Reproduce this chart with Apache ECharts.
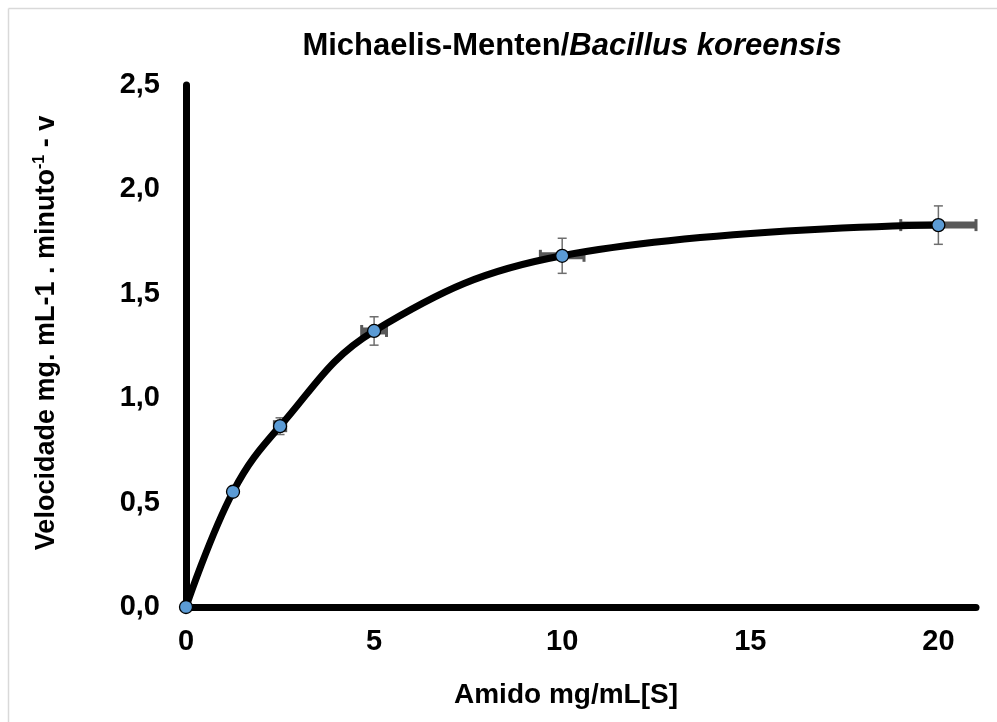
<!DOCTYPE html>
<html>
<head>
<meta charset="utf-8">
<script src="https://cdn.jsdelivr.net/npm/echarts@6/dist/echarts.min.js"></script>
<style>
html, body { margin: 0; padding: 0; background: #fff; }
#chart { width: 997px; height: 722px; }
</style>
</head>
<body>
<div id="chart"></div>
<script>
// substrate concentration [S] and velocity v
var substrate = [0, 1.25, 2.5, 5, 10, 20]
var velocity = [0, 0.552, 0.866, 1.322, 1.682, 1.829]
var velocityErr = [0, 0.01, 0.04, 0.068, 0.084, 0.092]
var substrateErr = [0, 0, 0.15, 0.33, 0.58, 1.0]
var xTicks = [0, 5, 10, 15, 20]

var font = "'Liberation Sans', Arial, sans-serif"
var chart = echarts.init(document.getElementById('chart'))

var points = substrate.map(function (x, i) { return [x, velocity[i]] })
var errData = substrate.map(function (x, i) {
  return [x, velocity[i], substrateErr[i], velocityErr[i]]
})

chart.setOption({
  animation: false,
  backgroundColor: '#fff',
  title: {
    text: '{a|Michaelis-Menten/}{b|Bacillus koreensis}',
    left: 567,
    top: 26,
    textAlign: 'center',
    textStyle: {
      rich: {
        a: { fontFamily: font, fontWeight: 'bold', fontSize: 31, color: '#000' },
        b: { fontFamily: font, fontWeight: 'bold', fontStyle: 'italic', fontSize: 31, color: '#000' }
      }
    }
  },
  // chart-area border, only top and left edges fall inside the picture
  graphic: [
    { type: 'line', silent: true, shape: { x1: 8.5, y1: 8.5, x2: 997, y2: 8.5 }, style: { stroke: '#d9d9d9', lineWidth: 1.5 } },
    { type: 'line', silent: true, shape: { x1: 8.5, y1: 8.5, x2: 8.5, y2: 722 }, style: { stroke: '#d9d9d9', lineWidth: 1.5 } }
  ],
  grid: { left: 186, right: 21, top: 85, bottom: 115 },
  xAxis: {
    type: 'value',
    min: 0,
    max: 21,
    interval: 5,
    name: 'Amido mg/mL[S]',
    nameLocation: 'middle',
    nameGap: 74,
    nameTextStyle: { fontFamily: font, fontWeight: 'bold', fontSize: 28, color: '#000', padding: [0, 30, 0, 0] },
    axisLine: { show: true, onZero: false, lineStyle: { color: '#000', width: 7 } },
    axisTick: { show: false },
    splitLine: { show: false },
    axisLabel: {
      margin: 20,
      fontFamily: font,
      fontWeight: 'bold',
      fontSize: 29,
      color: '#000',
      formatter: function (v) { return xTicks.indexOf(v) >= 0 ? String(v) : '' }
    }
  },
  yAxis: {
    type: 'value',
    min: 0,
    max: 2.5,
    interval: 0.5,
    name: '{n|Velocidade mg. mL-1 . minuto}{s|-1}{n| - v}',
    nameLocation: 'middle',
    nameGap: 125,
    nameRotate: 90,
    nameTextStyle: {
      padding: [0, 0, 0, 26],
      rich: {
        n: { fontFamily: font, fontWeight: 'bold', fontSize: 27, color: '#000' },
        s: { fontFamily: font, fontWeight: 'bold', fontSize: 16, color: '#000', padding: [0, 0, 13, 0] }
      }
    },
    axisLine: { show: true, lineStyle: { color: '#000', width: 7 } },
    axisTick: { show: false },
    splitLine: { show: false },
    axisLabel: {
      margin: 26,
      fontFamily: font,
      fontWeight: 'bold',
      fontSize: 29,
      color: '#000',
      formatter: function (v) { return v.toFixed(1).replace('.', ',') }
    }
  },
  series: [
    {
      type: 'custom',
      z: 1,
      data: errData,
      renderItem: function (params, api) {
        var x = api.value(0), y = api.value(1), ex = api.value(2), ey = api.value(3)
        var kids = []
        if (ex > 0) {
          var l = api.coord([x - ex, y]), r = api.coord([x + ex, y])
          kids.push({ type: 'line', shape: { x1: l[0], y1: l[1], x2: r[0], y2: r[1] }, style: { stroke: '#595959', lineWidth: 7 } })
          kids.push({ type: 'line', shape: { x1: l[0], y1: l[1] - 6, x2: l[0], y2: l[1] + 6 }, style: { stroke: '#595959', lineWidth: 3 } })
          kids.push({ type: 'line', shape: { x1: r[0], y1: r[1] - 6, x2: r[0], y2: r[1] + 6 }, style: { stroke: '#595959', lineWidth: 3 } })
        }
        if (ey > 0) {
          var t = api.coord([x, y + ey]), b = api.coord([x, y - ey])
          kids.push({ type: 'line', shape: { x1: t[0], y1: t[1], x2: b[0], y2: b[1] }, style: { stroke: '#6e6e6e', lineWidth: 1.5 } })
          kids.push({ type: 'line', shape: { x1: t[0] - 4.5, y1: t[1], x2: t[0] + 4.5, y2: t[1] }, style: { stroke: '#6e6e6e', lineWidth: 1.5 } })
          kids.push({ type: 'line', shape: { x1: b[0] - 4.5, y1: b[1], x2: b[0] + 4.5, y2: b[1] }, style: { stroke: '#6e6e6e', lineWidth: 1.5 } })
        }
        return { type: 'group', children: kids }
      }
    },
    {
      type: 'line',
      z: 2,
      data: points,
      smooth: 0.4,
      showSymbol: false,
      lineStyle: { color: '#000', width: 7 }
    },
    {
      type: 'scatter',
      z: 3,
      data: points,
      symbol: 'circle',
      symbolSize: 13,
      itemStyle: { color: '#5B9BD5', borderColor: '#000', borderWidth: 1.3, opacity: 1 }
    }
  ]
})
</script>
</body>
</html>
